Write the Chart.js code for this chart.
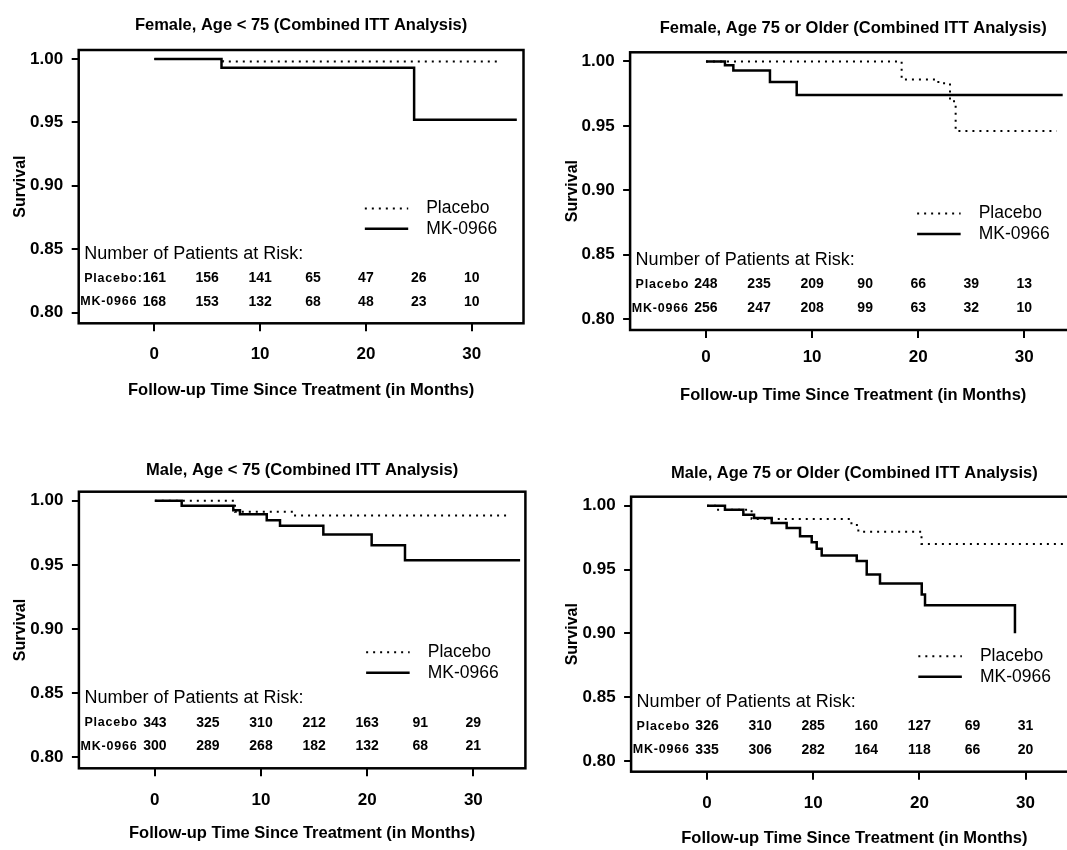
<!DOCTYPE html>
<html>
<head>
<meta charset="utf-8">
<title>Survival by sex and age (Combined ITT Analysis)</title>
<script src="https://cdn.jsdelivr.net/npm/chart.js@4.4.1/dist/chart.umd.min.js"></script>
<style>
  html, body { margin: 0; padding: 0; background: #fff; overflow: hidden; }
  body { width: 1067px; height: 850px; position: relative; }
  canvas { position: absolute; display: block; }
</style>
</head>
<body>
<canvas id="c1" width="533" height="425" style="left:0;top:0"></canvas>
<canvas id="c2" width="545" height="425" style="left:533px;top:0"></canvas>
<canvas id="c3" width="533" height="430" style="left:0;top:425px"></canvas>
<canvas id="c4" width="545" height="430" style="left:533px;top:425px"></canvas>
<script>
// shared axis values
const xTicks = [0, 10, 20, 30];
const yTicks = [0.80, 0.85, 0.90, 0.95, 1.00];
const riskTimes = [0, 5, 10, 15, 20, 25, 30];

// Female, age < 75
const femYoungPlaceboTime = [0, 6.5, 32.6];
const femYoungPlaceboSurv = [1.000, 0.998, 0.998];
const femYoungDrugTime = [0, 6.35, 24.56, 34.15];
const femYoungDrugSurv = [1.000, 0.993, 0.952, 0.951];
const femYoungPlaceboRisk = [161, 156, 141, 65, 47, 26, 10];
const femYoungDrugRisk = [168, 153, 132, 68, 48, 23, 10];

// Female, age 75 or older
const femOldPlaceboTime = [0, 18.44, 21.9, 23.0, 23.53, 33.05];
const femOldPlaceboSurv = [1.000, 0.986, 0.983, 0.969, 0.946, 0.946];
const femOldDrugTime = [0, 1.79, 2.58, 6.03, 8.55, 33.5];
const femOldDrugSurv = [1.000, 0.997, 0.993, 0.984, 0.974, 0.973];
const femOldPlaceboRisk = [248, 235, 209, 90, 66, 39, 13];
const femOldDrugRisk = [256, 247, 208, 99, 63, 32, 10];

// Male, age < 75
const maleYoungPlaceboTime = [0, 7.55, 12.9, 33.3];
const maleYoungPlaceboSurv = [1.000, 0.9914, 0.9885, 0.9885];
const maleYoungDrugTime = [0, 2.53, 7.39, 8.02, 10.54, 11.79, 15.87, 20.42, 23.56, 34.4];
const maleYoungDrugSurv = [1.000, 0.9961, 0.9927, 0.9896, 0.9849, 0.9805, 0.9738, 0.9654, 0.9537, 0.9537];
const maleYoungPlaceboRisk = [343, 325, 310, 212, 163, 91, 29];
const maleYoungDrugRisk = [300, 289, 268, 182, 132, 68, 21];

// Male, age 75 or older
const maleOldPlaceboTime = [0, 0.91, 4.2, 13.6, 14.25, 20.2, 34.3];
const maleOldPlaceboSurv = [1.000, 0.9969, 0.9896, 0.985, 0.9797, 0.9701, 0.9701];
const maleOldDrugTime = [0, 1.69, 3.42, 4.43, 6.09, 7.5, 8.76, 9.86, 10.33, 10.8, 14.1, 15.04, 16.29, 20.22, 20.53, 29.0];
const maleOldDrugSurv = [1.000, 0.9969, 0.993, 0.9904, 0.9865, 0.9826, 0.9761, 0.9714, 0.9663, 0.961, 0.9566, 0.9462, 0.939, 0.9304, 0.922, 0.900];
const maleOldPlaceboRisk = [326, 310, 285, 160, 127, 69, 31];
const maleOldDrugRisk = [335, 306, 282, 164, 118, 66, 20];

const FONT = '"Liberation Sans", Arial, sans-serif';
Chart.defaults.font.family = FONT;
Chart.defaults.color = '#000';

function toPoints(times, surv) {
  return times.map((t, i) => ({ x: t, y: surv[i] }));
}

// box round the plot area
const frame = {
  id: 'frame',
  beforeDatasetsDraw(chart) {
    const { ctx, chartArea: a } = chart;
    ctx.save();
    ctx.strokeStyle = '#000';
    ctx.lineWidth = 2.5;
    ctx.strokeRect(a.left, a.top, a.right - a.left, a.bottom - a.top);
    ctx.restore();
  }
};

// "Number of Patients at Risk" table inside the plot
const riskTable = {
  id: 'riskTable',
  afterDatasetsDraw(chart, args, o) {
    const { ctx, scales: { x, y } } = chart;
    ctx.save();
    ctx.fillStyle = '#000';
    ctx.textBaseline = 'middle';
    ctx.textAlign = 'left';
    ctx.font = '18px ' + FONT;
    ctx.fillText('Number of Patients at Risk:', x.getPixelForValue(-6.63), y.getPixelForValue(0.846));
    o.rows.forEach(row => {
      const py = y.getPixelForValue(row.at);
      ctx.textAlign = 'left';
      ctx.font = 'bold 12.5px ' + FONT;
      ctx.letterSpacing = '0.8px';
      ctx.fillText(row.label, x.getPixelForValue(row.from), py);
      ctx.letterSpacing = '0px';
      ctx.textAlign = 'center';
      ctx.font = 'bold 14px ' + FONT;
      row.counts.forEach((n, i) => ctx.fillText(String(n), x.getPixelForValue(riskTimes[i]), py));
    });
    ctx.restore();
  }
};

// line key at the right of the plot
const lineKey = {
  id: 'lineKey',
  afterDatasetsDraw(chart) {
    const { ctx, scales: { x, y } } = chart;
    const rows = [{ ds: chart.data.datasets[1], at: 0.882 }, { ds: chart.data.datasets[0], at: 0.866 }];
    ctx.save();
    rows.forEach(r => {
      const py = y.getPixelForValue(r.at);
      ctx.strokeStyle = '#000';
      ctx.lineWidth = r.ds.borderWidth;
      ctx.setLineDash(r.ds.borderDash || []);
      ctx.beginPath();
      ctx.moveTo(x.getPixelForValue(19.9), py);
      ctx.lineTo(x.getPixelForValue(24.0), py);
      ctx.stroke();
      ctx.setLineDash([]);
      ctx.fillStyle = '#000';
      ctx.font = '17.5px ' + FONT;
      ctx.textAlign = 'left';
      ctx.textBaseline = 'middle';
      ctx.fillText(r.ds.label, x.getPixelForValue(25.7), py);
    });
    ctx.restore();
  }
};

function survivalChart(p) {
  const ctx = document.getElementById(p.id).getContext('2d');
  return new Chart(ctx, {
    type: 'line',
    data: {
      datasets: [
        {
          label: 'MK-0966',
          data: toPoints(p.drugTime, p.drugSurv),
          stepped: true,
          borderColor: '#000',
          borderWidth: 2.5,
          pointRadius: 0,
          fill: false
        },
        {
          label: 'Placebo',
          data: toPoints(p.placeboTime, p.placeboSurv),
          stepped: true,
          borderColor: '#000',
          borderWidth: 2,
          borderDash: [2, 5],
          pointRadius: 0,
          fill: false
        }
      ]
    },
    options: {
      responsive: false,
      animation: false,
      layout: { padding: { left: 0, top: 0, right: p.padRight, bottom: 0 } },
      plugins: {
        legend: { display: false },
        tooltip: { enabled: false },
        title: {
          display: true,
          text: p.title,
          fullSize: false,
          color: '#000',
          font: { size: 16.5, weight: 'bold' },
          padding: { top: p.titleTop, bottom: p.titleBottom }
        },
        riskTable: {
          rows: [
            { label: p.placeboLabel, from: -6.63, at: 0.827, counts: p.placeboRisk },
            { label: 'MK-0966', from: -7.0, at: 0.8085, counts: p.drugRisk }
          ]
        }
      },
      scales: {
        x: {
          type: 'linear',
          min: -7.15,
          max: 34.9,
          afterBuildTicks: s => { s.ticks = xTicks.map(v => ({ value: v })); },
          afterFit: s => { s.height = p.xAxisH; },
          ticks: { color: '#000', font: { size: 17, weight: 'bold' }, padding: p.xTickPad, maxRotation: 0 },
          grid: { drawOnChartArea: false, drawTicks: true, tickLength: 8, color: '#000', lineWidth: 2 },
          border: { display: false },
          title: {
            display: true,
            text: 'Follow-up Time Since Treatment (in Months)',
            color: '#000',
            font: { size: 16.5, weight: 'bold' },
            padding: { top: 0, bottom: p.xTitleBottom }
          }
        },
        y: {
          type: 'linear',
          min: 0.7915,
          max: 1.0071,
          afterBuildTicks: s => { s.ticks = yTicks.map(v => ({ value: v })); },
          afterFit: s => { s.width = p.yAxisW; },
          ticks: { color: '#000', font: { size: 17, weight: 'bold' }, padding: 8.5, callback: v => v.toFixed(2) },
          grid: { drawOnChartArea: false, drawTicks: true, tickLength: 7, color: '#000', lineWidth: 2 },
          border: { display: false },
          title: {
            display: true,
            text: 'Survival',
            color: '#000',
            font: { size: 16, weight: 'bold' },
            padding: { top: p.yTitleTop, bottom: 0 }
          }
        }
      }
    },
    plugins: [frame, riskTable, lineKey]
  });
}

survivalChart({
  id: 'c1', title: 'Female, Age < 75 (Combined ITT Analysis)', placeboLabel: 'Placebo:',
  placeboTime: femYoungPlaceboTime, placeboSurv: femYoungPlaceboSurv,
  drugTime: femYoungDrugTime, drugSurv: femYoungDrugSurv,
  placeboRisk: femYoungPlaceboRisk, drugRisk: femYoungDrugRisk,
  yAxisW: 78.7, padRight: 9.5, titleTop: 15.1, titleBottom: 15.1,
  xAxisH: 101.7, xTickPad: 12.5, xTitleBottom: 25.1, yTitleTop: 10.7
});

survivalChart({
  id: 'c2', title: 'Female, Age 75 or Older (Combined ITT Analysis)', placeboLabel: 'Placebo',
  placeboTime: femOldPlaceboTime, placeboSurv: femOldPlaceboSurv,
  drugTime: femOldDrugTime, drugSurv: femOldDrugSurv,
  placeboRisk: femOldPlaceboRisk, drugRisk: femOldDrugRisk,
  yAxisW: 97.1, padRight: 1.7, titleTop: 18.4, titleBottom: 14.1,
  xAxisH: 95, xTickPad: 8.8, xTitleBottom: 20.1, yTitleTop: 30.2
});

survivalChart({
  id: 'c3', title: 'Male, Age < 75 (Combined ITT Analysis)', placeboLabel: 'Placebo',
  placeboTime: maleYoungPlaceboTime, placeboSurv: maleYoungPlaceboSurv,
  drugTime: maleYoungDrugTime, drugSurv: maleYoungDrugSurv,
  placeboRisk: maleYoungPlaceboRisk, drugRisk: maleYoungDrugRisk,
  yAxisW: 78.9, padRight: 7.6, titleTop: 35.1, titleBottom: 11.8,
  xAxisH: 86.7, xTickPad: 13.5, xTitleBottom: 11.8, yTitleTop: 10.7
});

survivalChart({
  id: 'c4', title: 'Male, Age 75 or Older (Combined ITT Analysis)', placeboLabel: 'Placebo',
  placeboTime: maleOldPlaceboTime, placeboSurv: maleOldPlaceboSurv,
  drugTime: maleOldDrugTime, drugSurv: maleOldDrugSurv,
  placeboRisk: maleOldPlaceboRisk, drugRisk: maleOldDrugRisk,
  yAxisW: 98.1, padRight: 0.4, titleTop: 38.4, titleBottom: 13.5,
  xAxisH: 83.3, xTickPad: 13.4, xTitleBottom: 6.8, yTitleTop: 30.2
});
</script>
</body>
</html>
